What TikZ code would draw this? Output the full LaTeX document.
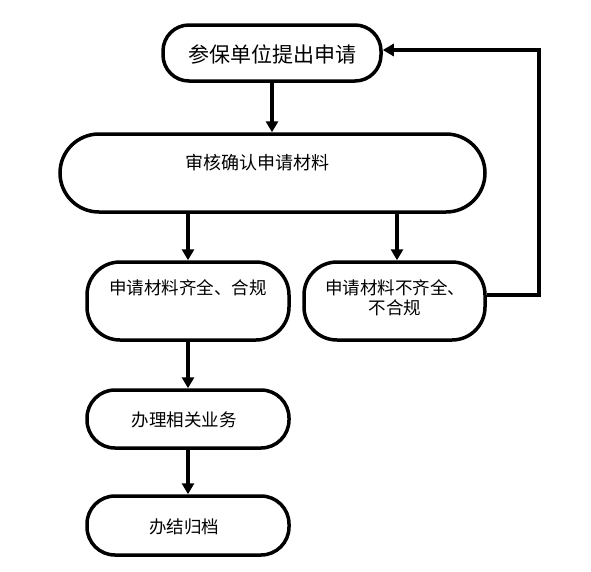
\documentclass[tikz,border=0pt]{standalone}
\usepackage{fontspec}
\setmainfont{Noto Sans CJK SC}
\usepackage{tikz}
\usetikzlibrary{calc,arrows.meta}

\begin{document}
\begin{tikzpicture}[
  x=1pt,y=-1pt,
  flowbox/.style={rectangle,draw=black,line width=3.5pt,inner sep=0pt},
  flowtext/.style={font=\fontsize{17.5}{20}\selectfont,align=center,inner sep=0pt},
  flowarrow/.style={line width=3.5pt,-{Triangle[width=12pt,length=11pt]}}
]
\useasboundingbox (0,0) rectangle (591,571);

% boxes
\node[flowbox,minimum width=218pt,minimum height=56pt,rounded corners=26pt] (apply) at (272,53) {};
\node[flowbox,minimum width=425pt,minimum height=78pt,rounded corners=39pt] (check) at (272.5,173) {};
\node[flowbox,minimum width=202pt,minimum height=78pt,rounded corners=33pt] (accept) at (188,301) {};
\node[flowbox,minimum width=181pt,minimum height=78pt,rounded corners=33pt] (reject) at (394.5,301) {};
\node[flowbox,minimum width=202pt,minimum height=58pt,rounded corners=28pt] (handle) at (188,419) {};
\node[flowbox,minimum width=202pt,minimum height=59pt,rounded corners=28pt] (archive) at (188,525.5) {};

% texts
\node[flowtext,font=\fontsize{21}{24}\selectfont] (applytext) at (272,54) {参保单位提出申请};
\node[flowtext,font=\fontsize{18}{20}\selectfont] (checktext) at (257,163) {审核确认申请材料};
\node[flowtext] (accepttext) at (188,288) {申请材料齐全、合规};
\node[flowtext] (rejecttext) at (395,298) {申请材料不齐全、\\不合规};
\node[flowtext] (handletext) at (184,420) {办理相关业务};
\node[flowtext] (archivetext) at (184,527) {办结归档};

% arrows
\draw[flowarrow] (apply.south) -- (apply.south |- check.north);
\draw[flowarrow] (accept.north |- check.south) -- (accept.north);
\draw[flowarrow] ([xshift=2.5pt]reject.north |- check.south) -- ([xshift=2.5pt]reject.north);
\draw[flowarrow] (accept.south) -- (handle.north);
\draw[flowarrow] (handle.south) -- (archive.north);
\draw[flowarrow] ([yshift=6pt]reject.east) -- ++(52,0) |- ([yshift=3pt]apply.east);

\end{tikzpicture}
\end{document}
